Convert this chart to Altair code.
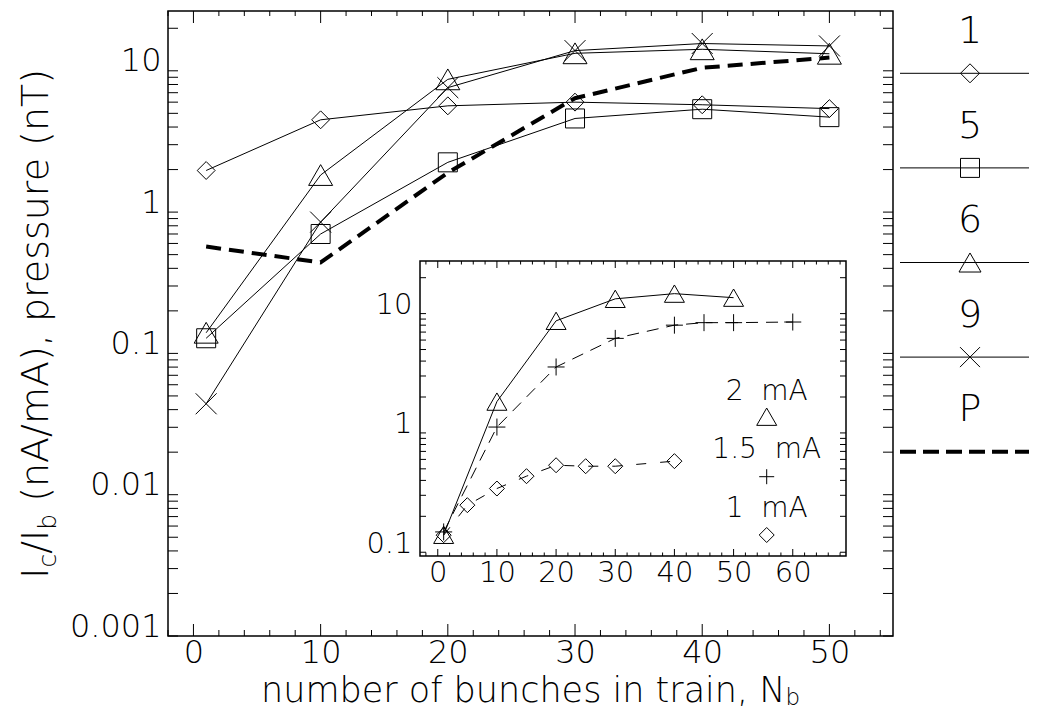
import altair as alt
import pandas as pd

# ---------------- data: main plot ----------------
NB = [1, 10, 20, 30, 40, 50]
SERIES_1 = [1.97, 4.5, 5.65, 6.0, 5.75, 5.4]       # diamonds
SERIES_5 = [0.128, 0.70, 2.25, 4.6, 5.35, 4.7]     # squares
SERIES_6 = [0.14, 1.83, 8.7, 13.3, 14.2, 13.2]     # triangles
SERIES_9 = [0.044, 0.85, 7.6, 13.9, 15.6, 15.0]    # crosses
PRESSURE = [0.57, 0.44, 1.9, 6.4, 10.5, 12.4]      # P (dashed)

# ---------------- data: inset ----------------
IN_X_2MA = [1, 10, 20, 30, 40, 50]
IN_Y_2MA = [0.14, 1.83, 8.7, 13.3, 14.7, 13.6]
IN_X_15MA = [1, 10, 20, 30, 40, 45, 50, 60]
IN_Y_15MA = [0.148, 1.12, 3.57, 6.2, 8.0, 8.4, 8.4, 8.5]
IN_X_1MA = [1, 5, 10, 15, 20, 25, 30, 40]
IN_Y_1MA = [0.139, 0.248, 0.342, 0.434, 0.536, 0.526, 0.526, 0.58]

LEGEND_LABELS = ["1", "5", "6", "9", "P"]
INSET_LEGEND = ["2\u00a0\u00a0mA", "1.5\u00a0\u00a0mA", "1\u00a0\u00a0mA"]
X_TICKS = [0, 10, 20, 30, 40, 50]
Y_TICKS = [0.001, 0.01, 0.1, 1, 10]
IN_X_TICKS = [0, 10, 20, 30, 40, 50, 60]
IN_Y_TICKS = [0.1, 1, 10]
X_TITLE = "number of bunches in train, N"
X_TITLE_SUB = "b"
Y_TITLE_PARTS = ["I", "c", "/I", "b", "(nA/mA), pressure (nT)"]

# ---------------- layout / style ----------------
W, H = 725, 625
X_DOM = [-2, 55]
Y_DOM = [0.001, 26.5]
IN_X_DOM = [-3, 69]
IN_Y_DOM = [0.093, 27.6]
IN_L, IN_R, IN_T, IN_B = 252, 678, 250, 545

FONT = "DejaVu Sans"
FW = 200
XPATH = "M-1,-1L1,1M-1,1L1,-1"
PLUS = "M-1,0L1,0M0,-1L0,1"

# approximate advance widths (em) of DejaVu Sans, used only to butt subscripts together
EM = {" ": .318, "(": .390, ")": .390, ",": .318, "/": .337, "A": .684, "I": .295,
      "N": .748, "T": .611, "a": .613, "b": .635, "c": .550, "e": .615, "f": .352,
      "h": .634, "i": .278, "m": .974, "n": .634, "o": .612, "p": .635, "r": .411,
      "s": .521, "t": .392, "u": .634}


def tw(s, size):
    return sum(EM.get(ch, 0.6) for ch in s) * size


def log_ticks(lo, hi):
    out = []
    for e in range(-4, 3):
        for m in range(1, 10):
            v = float(f"{m}e{e}")
            if lo <= v <= hi:
                out.append(v)
    return out


MAIN_Y_TICKS_ALL = log_ticks(*Y_DOM)
IN_Y_TICKS_ALL = log_ticks(*IN_Y_DOM)
MAIN_X_MINOR = [v for v in range(-2, 56, 2) if v % 10]
IN_X_MINOR = [v for v in range(-2, 70, 2) if v % 10]
IN_X_MAJOR = IN_X_TICKS

ax_x_main = alt.Axis(orient="bottom", values=X_TICKS, ticks=False, domain=False, grid=False,
                     title=None, labelFont=FONT, labelFontWeight=FW, labelFontSize=32,
                     labelColor="black", labelPadding=1, labelFlush=False, labelOverlap=False)
ax_y_main = alt.Axis(orient="left", values=Y_TICKS, format="~g", ticks=False, domain=False,
                     grid=False, title=None, labelFont=FONT, labelFontWeight=FW, labelFontSize=32,
                     labelColor="black", labelPadding=7, labelBaseline="alphabetic",
                     labelFlush=False, labelOverlap=False)
ax_x_in = alt.Axis(orient="bottom", offset=-(H - IN_B), values=IN_X_TICKS, ticks=False,
                   domain=False, grid=False, title=None, labelFont=FONT, labelFontWeight=FW,
                   labelFontSize=29, labelColor="black", labelPadding=2, labelFlush=False,
                   labelOverlap=False)
ax_y_in = alt.Axis(orient="left", offset=-IN_L, values=IN_Y_TICKS, format="~g", ticks=False,
                   domain=False, grid=False, title=None, labelFont=FONT, labelFontWeight=FW,
                   labelFontSize=29, labelColor="black", labelPadding=8,
                   labelBaseline="alphabetic", labelFlush=False, labelOverlap=False)

XM = alt.X("x:Q", scale=alt.Scale(domain=X_DOM, nice=False, zero=False), axis=ax_x_main)
YM = alt.Y("y:Q", scale=alt.Scale(type="log", domain=Y_DOM, nice=False), axis=ax_y_main)
XI = alt.X("x:Q", scale=alt.Scale(domain=IN_X_DOM, range=[IN_L, IN_R], nice=False, zero=False),
           axis=ax_x_in)
YI = alt.Y("y:Q", scale=alt.Scale(type="log", domain=IN_Y_DOM, range=[IN_B, IN_T], nice=False),
           axis=ax_y_in)


def series(xs, ys, X, Y, shape=None, size=None, dash=None, width=1.0):
    base = alt.Chart(pd.DataFrame({"x": xs, "y": ys}))
    kw = dict(color="black", strokeWidth=width)
    if dash:
        kw["strokeDash"] = dash
    out = [base.mark_line(**kw).encode(x=X, y=Y)]
    if shape:
        out.append(base.mark_point(shape=shape, size=size, filled=False, color="black",
                                   strokeWidth=1, opacity=1).encode(x=X, y=Y))
    return out


def xticks(vals, X, y0, y1):
    return alt.Chart(pd.DataFrame({"x": vals})).mark_rule(color="black", strokeWidth=1).encode(
        x=X, y=alt.value(y0), y2=alt.value(y1))


def yticks(vals, Y, x0, x1):
    return alt.Chart(pd.DataFrame({"y": vals})).mark_rule(color="black", strokeWidth=1).encode(
        y=Y, x=alt.value(x0), x2=alt.value(x1))


def text_at(t, x, y, size, align="left", angle=0):
    return alt.Chart(pd.DataFrame({"t": [t]})).mark_text(
        font=FONT, fontSize=size, fontWeight=FW, align=align, baseline="alphabetic",
        angle=angle, color="black").encode(text="t:N", x=alt.value(x), y=alt.value(y))


# ---------------- main layers ----------------
main_layers = [
    xticks(X_TICKS, XM, H, H - 12), xticks(MAIN_X_MINOR, XM, H, H - 6),
    xticks(X_TICKS, XM, 0, 12), xticks(MAIN_X_MINOR, XM, 0, 5),
    yticks(MAIN_Y_TICKS_ALL, YM, 0, 10), yticks(MAIN_Y_TICKS_ALL, YM, W, W - 10),
]
main_layers += series(NB, SERIES_1, XM, YM, "diamond", 320)
main_layers += series(NB, SERIES_5, XM, YM, "square", 361)
main_layers += series(NB, SERIES_6, XM, YM, "triangle-up", 576)
main_layers += series(NB, SERIES_9, XM, YM, XPATH, 440)
main_layers += series(NB, PRESSURE, XM, YM, dash=[15, 8], width=4)

# legend outside the plot (right)
LEG_SHAPES = ["diamond", "square", "triangle-up", XPATH, None]
LEG_SIZES = [361, 361, 484, 400, None]
for i, lab in enumerate(LEGEND_LABELS):
    ty = 32 + 94.6 * i
    ly = 62.3 + 94.6 * i
    one = alt.Chart(pd.DataFrame({"t": [lab]}))
    main_layers.append(text_at(lab, 802, ty, 38, align="center"))
    if LEG_SHAPES[i] is None:
        main_layers.append(one.mark_rule(color="black", strokeWidth=4, strokeDash=[16, 7]).encode(
            x=alt.value(732), x2=alt.value(861), y=alt.value(ly)))
    else:
        main_layers.append(one.mark_rule(color="black", strokeWidth=1).encode(
            x=alt.value(732), x2=alt.value(861), y=alt.value(ly)))
        main_layers.append(one.mark_point(shape=LEG_SHAPES[i], size=LEG_SIZES[i], filled=False,
                                          color="black", strokeWidth=1, opacity=1).encode(
            x=alt.value(802), y=alt.value(ly)))

# ---- axis titles with subscripts ----
TS, SS = 38, 25
# y title (reads upwards): I c /I b _ (nA/mA), pressure (nT)
w_I, w_c, w_sl, w_b = tw("I", TS), tw("c", SS), tw("/I", TS), tw("b", SS)
w_sp, w_long = tw(" ", TS), tw(Y_TITLE_PARTS[4], TS)
total = w_I + w_c + w_sl + w_b + w_sp + w_long
bottom = 312 + total / 2
xb, xs = -120, -112
main_layers.append(text_at(Y_TITLE_PARTS[0], xb, bottom, TS, "left", 270))
main_layers.append(text_at(Y_TITLE_PARTS[1], xs, bottom - w_I, SS, "left", 270))
main_layers.append(text_at(Y_TITLE_PARTS[2], xb, bottom - w_I - w_c, TS, "left", 270))
main_layers.append(text_at(Y_TITLE_PARTS[3], xs, bottom - w_I - w_c - w_sl, SS, "left", 270))
main_layers.append(text_at(Y_TITLE_PARTS[4], xb, bottom - w_I - w_c - w_sl - w_b - w_sp, TS,
                           "left", 270))

# x title
XTS, XSS = 35, 23
w_main, w_sub = tw(X_TITLE, XTS), tw(X_TITLE_SUB, XSS)
x_end = W / 2 - (w_main + w_sub) / 2 + w_main
main_layers.append(text_at(X_TITLE, x_end, 690.5, XTS, "right"))
main_layers.append(text_at(X_TITLE_SUB, x_end, 693.5, XSS, "left"))

# ---------------- inset layers ----------------
frame = alt.Chart(pd.DataFrame({"x": [IN_X_DOM[0]], "x2": [IN_X_DOM[1]],
                                "y": [IN_Y_DOM[0]], "y2": [IN_Y_DOM[1]]})).mark_rect(
    fill="white", stroke="black", strokeWidth=1.5).encode(x=XI, x2="x2:Q", y=YI, y2="y2:Q")
inset_layers = [
    frame,
    xticks(IN_X_MAJOR, XI, IN_B, IN_B - 7), xticks(IN_X_MINOR, XI, IN_B, IN_B - 3.5),
    xticks(IN_X_MAJOR, XI, IN_T, IN_T + 7), xticks(IN_X_MINOR, XI, IN_T, IN_T + 3.5),
    yticks(IN_Y_TICKS_ALL, YI, IN_L, IN_L + 6), yticks(IN_Y_TICKS_ALL, YI, IN_R, IN_R - 6),
]
inset_layers += series(IN_X_2MA, IN_Y_2MA, XI, YI, "triangle-up", 400)
inset_layers += series(IN_X_15MA, IN_Y_15MA, XI, YI, PLUS, 289, dash=[12, 8])
inset_layers += series(IN_X_1MA, IN_Y_1MA, XI, YI, "diamond", 225, dash=[10, 14])

IN_LEG_SHAPES = ["triangle-up", PLUS, "diamond"]
IN_LEG_SIZES = [400, 225, 225]
IN_TEXT_Y = [389, 447, 506]
IN_MARK_Y = [405.7, 465.7, 524]
for i, lab in enumerate(INSET_LEGEND):
    inset_layers.append(text_at(lab, 598.7, IN_TEXT_Y[i], 28, align="center"))
    inset_layers.append(alt.Chart(pd.DataFrame({"t": [lab]})).mark_point(
        shape=IN_LEG_SHAPES[i], size=IN_LEG_SIZES[i], filled=False, color="black",
        strokeWidth=1, opacity=1).encode(x=alt.value(598.7), y=alt.value(IN_MARK_Y[i])))

main = alt.layer(*main_layers)
inset = alt.layer(*inset_layers)

chart = alt.layer(main, inset).resolve_scale(x="independent", y="independent").properties(
    width=W, height=H,
    padding={"left": 160, "top": 3, "right": 136, "bottom": 74},
    autosize=alt.AutoSizeParams(type="none"),
    background="white",
).configure_view(stroke="black", strokeWidth=1.5)

chart.save("out.html", embed_options={"renderer": "svg", "actions": False})
